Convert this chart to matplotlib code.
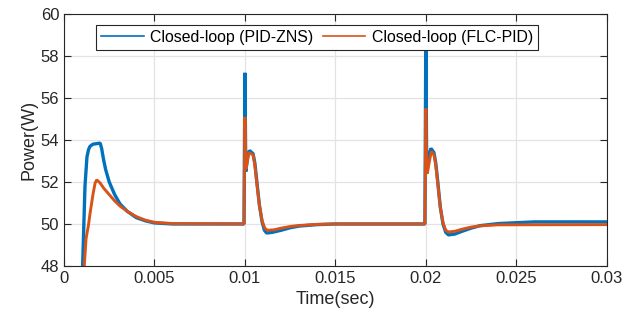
import numpy as np
import matplotlib.pyplot as plt

plt.rcParams['font.family'] = ['Liberation Sans', 'DejaVu Sans']

# Closed-loop (PID-ZNS) - key points
t_pid = [0.00100, 0.00103, 0.00116, 0.00127, 0.00136, 0.00144, 0.00160, 0.00200,
         0.00208, 0.00218, 0.00230, 0.00250, 0.00280, 0.00310, 0.00350, 0.00400,
         0.00450, 0.00500, 0.00600, 0.00995,
         0.01000, 0.01005, 0.01015, 0.01025, 0.01045, 0.01055, 0.01065, 0.01080,
         0.01095, 0.01108, 0.01120, 0.01150, 0.01200, 0.01250, 0.01300, 0.01400,
         0.01500, 0.01995,
         0.02000, 0.02005, 0.02015, 0.02028, 0.02045, 0.02055, 0.02065, 0.02080,
         0.02095, 0.02110, 0.02125, 0.02160, 0.02200, 0.02250, 0.02300, 0.02400,
         0.02600, 0.03000]
p_pid = [47.5, 48.0, 51.8, 53.2, 53.55, 53.7, 53.8, 53.85,
         53.6, 53.1, 52.6, 52.0, 51.4, 50.95, 50.6, 50.3,
         50.15, 50.05, 50.0, 50.0,
         57.2, 52.5, 53.2, 53.5, 53.35, 52.9, 52.1, 50.9,
         50.1, 49.7, 49.57, 49.6, 49.7, 49.82, 49.9, 49.97,
         50.0, 50.0,
         59.0, 52.4, 53.2, 53.6, 53.4, 52.9, 52.1, 50.8,
         50.0, 49.6, 49.48, 49.52, 49.65, 49.8, 49.92, 50.02,
         50.1, 50.1]

# Closed-loop (FLC-PID)
t_flc = [0.00105, 0.00112, 0.00122, 0.00130, 0.00134, 0.00144, 0.00160, 0.00172,
         0.00181, 0.00200, 0.00220, 0.00250, 0.00280, 0.00310, 0.00350, 0.00400,
         0.00450, 0.00500, 0.00600, 0.00995,
         0.01000, 0.01005, 0.01012, 0.01022, 0.01045, 0.01055, 0.01065, 0.01080,
         0.01095, 0.01110, 0.01125, 0.01160, 0.01200, 0.01250, 0.01300, 0.01400,
         0.01500, 0.01995,
         0.02000, 0.02005, 0.02010, 0.02018, 0.02030, 0.02045, 0.02055, 0.02065,
         0.02080, 0.02095, 0.02110, 0.02125, 0.02160, 0.02200, 0.02250, 0.02300,
         0.02400, 0.03000]
p_flc = [47.5, 48.0, 49.3, 49.7, 49.87, 50.5, 51.4, 51.95,
         52.1, 51.95, 51.7, 51.4, 51.1, 50.85, 50.6, 50.35,
         50.18, 50.08, 50.02, 50.0,
         55.1, 52.6, 52.9, 53.4, 53.3, 52.8, 52.0, 50.9,
         50.15, 49.8, 49.7, 49.72, 49.8, 49.88, 49.93, 49.98,
         50.0, 50.0,
         55.5, 52.4, 52.5, 52.9, 53.45, 53.3, 52.8, 52.0,
         50.8, 50.05, 49.7, 49.62, 49.65, 49.75, 49.85, 49.91,
         49.96, 49.97]

xticks = [0, 0.005, 0.01, 0.015, 0.02, 0.025, 0.03]
xticklabels = ['0', '0.005', '0.01', '0.015', '0.02', '0.025', '0.03']
yticks = [48, 50, 52, 54, 56, 58, 60]

fig = plt.figure(figsize=(6.38, 3.22), dpi=100)
ax = fig.add_axes([0.1003, 0.174, 0.8507, 0.7825])

ax.plot(t_pid, p_pid, color='#0072BD', lw=2.4, solid_joinstyle='bevel',
        label='Closed-loop (PID-ZNS)')
ax.plot(t_flc, p_flc, color='#D95319', lw=2.1, solid_joinstyle='bevel',
        label='Closed-loop (FLC-PID)')

ax.set_xlim(0, 0.03)
ax.set_ylim(48, 60)
ax.set_xticks(xticks)
ax.set_xticklabels(xticklabels)
ax.set_yticks(yticks)
ax.tick_params(direction='in', length=5, width=0.8, labelsize=12,
               top=True, right=True, colors='#262626')
ax.grid(True, color='#e3e3e3', lw=0.9)
ax.set_axisbelow(True)
for s in ax.spines.values():
    s.set_color('#262626')
    s.set_linewidth(0.8)

ax.set_xlabel('Time(sec)', fontsize=13, color='#262626', labelpad=4)
ax.set_ylabel('Power(W)', fontsize=13, color='#262626', labelpad=2)

leg = ax.legend(loc='upper center', bbox_to_anchor=(0.466, 0.956), ncol=2,
                fontsize=11.4, frameon=True, fancybox=False, framealpha=1,
                edgecolor='#262626', borderaxespad=0, handlelength=2.7,
                columnspacing=0.6, handletextpad=0.4, borderpad=0.3)
leg.get_frame().set_linewidth(0.8)
for line in leg.get_lines():
    line.set_linewidth(1.2)

fig.savefig('out.png', dpi=100)
